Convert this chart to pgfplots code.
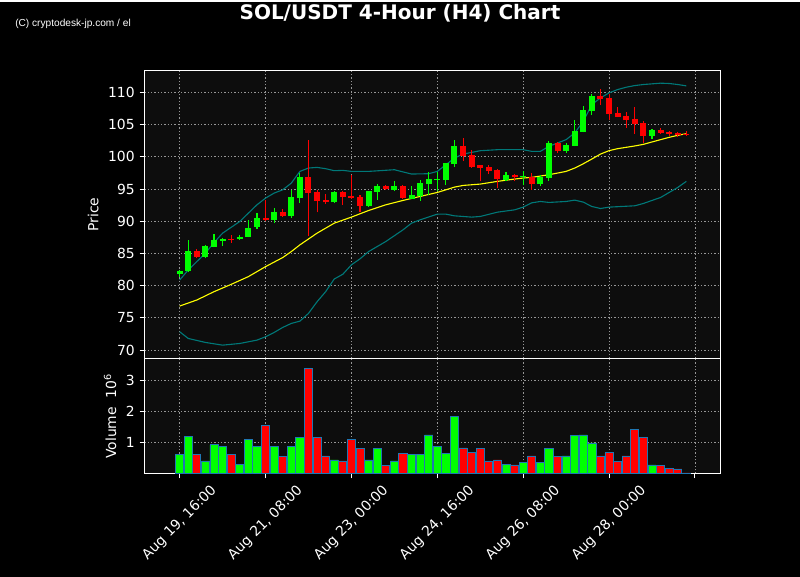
\documentclass[border=0pt]{standalone}
\usepackage{fontspec}
\setmainfont{DejaVu Sans}
\newfontfamily\wmfont{Liberation Sans}
\usepackage{pgfplots}
\usepackage{pgfplotstable}
\pgfplotsset{compat=1.18}

\definecolor{upc}{RGB}{0,255,0}
\definecolor{dnc}{RGB}{255,0,0}
\definecolor{bandc}{RGB}{0,120,120}
\definecolor{smac}{RGB}{255,255,0}
\definecolor{panel}{RGB}{13,13,13}
\definecolor{gridc}{RGB}{150,150,150}
\definecolor{edgec}{RGB}{31,119,180}

% 4h candles, x = bar index from Aug 19 16:00; v = volume in 1e6
\pgfplotstableread{
x o h l c v
0 81.77 82.45 81.30 82.34 0.605
1 82.24 87.12 82.20 85.46 1.19
3 84.42 86.30 84.26 86.23 0.41
4 86.08 88.05 85.97 87.17 0.93
5 87.01 87.45 86.23 87.32 0.865
7 87.22 87.89 87.12 87.63 0.30
8 87.53 90.23 87.50 89.03 1.09
9 89.09 91.27 88.83 90.44 0.89
11 90.13 92.10 89.70 91.37 0.89
13 90.75 94.89 90.49 93.70 0.89
14 93.60 97.49 92.82 96.81 1.16
18 92.93 94.70 92.90 94.48 0.44
22 92.35 94.75 92.25 94.64 0.44
23 94.53 95.83 93.34 95.42 0.80
25 94.89 96.20 94.75 95.42 0.41
27 93.50 95.42 93.45 94.12 0.605
28 94.00 96.34 93.18 95.88 0.605
29 95.73 97.60 94.12 96.51 1.25
30 96.40 97.60 94.64 96.56 0.865
31 96.40 99.04 95.68 98.99 0.64
32 98.89 102.67 98.47 101.64 1.84
38 96.45 97.60 96.20 97.13 0.31
40 96.82 97.85 95.57 96.97 0.35
42 95.78 97.23 95.42 96.82 0.35
43 96.72 102.42 96.30 102.11 0.80
45 100.86 102.20 100.65 101.80 0.57
46 101.70 105.79 101.65 103.98 1.22
47 103.88 107.98 103.80 107.25 1.25
48 107.09 109.79 106.57 109.42 0.99
55 103.25 104.40 102.83 104.13 0.28
}\upbars

\pgfplotstableread{
x o h l c v
2 85.46 85.72 84.26 84.42 0.605
6 87.30 87.89 86.70 87.20 0.605
10 90.44 93.34 90.00 90.13 1.55
12 91.37 91.89 90.65 90.75 0.54
15 96.81 102.67 87.74 94.38 3.39
16 94.48 94.89 91.37 93.13 1.16
17 93.24 94.27 92.67 92.93 0.57
19 94.48 94.75 92.56 93.76 0.41
20 93.86 97.23 93.45 93.55 1.09
21 93.70 94.12 91.42 92.35 0.80
24 95.42 95.68 94.90 95.00 0.25
26 95.42 95.57 93.50 93.60 0.64
33 101.64 102.93 99.41 100.19 0.83
34 100.24 101.12 98.30 98.37 0.68
35 98.68 98.78 96.20 98.27 0.80
36 98.37 98.78 97.33 97.80 0.41
37 97.91 98.12 95.16 96.56 0.44
39 97.13 97.30 96.20 96.82 0.28
41 96.82 97.49 94.89 95.78 0.57
44 102.11 102.32 100.55 100.86 0.54
49 109.42 110.62 108.13 109.01 0.57
50 109.11 109.84 105.74 106.62 0.67
51 106.78 107.76 106.15 106.21 0.38
52 106.31 106.99 104.50 105.69 0.57
53 105.84 107.76 103.61 105.07 1.42
54 105.22 105.53 102.16 103.25 1.16
56 104.13 104.50 103.60 103.72 0.25
57 103.87 104.07 103.20 103.56 0.18
58 103.72 103.82 103.10 103.46 0.15
59 103.56 103.98 103.30 103.40 0.02
}\dnbars

\pgfplotstableread{
x y
0 76.84
2 77.78
4 79.07
6 80.21
8 81.41
10 82.96
12 84.37
13 85.30
14 86.34
16 88.16
18 89.71
20 90.65
22 91.68
24 92.56
26 93.24
28 93.86
30 94.48
31 94.89
32 95.31
33 95.57
35 95.78
37 96.20
39 96.56
40 96.72
41 96.82
42 97.03
43 97.23
44 97.49
45 97.75
46 98.27
47 98.94
48 99.67
49 100.44
50 100.97
51 101.28
52 101.49
53 101.70
54 101.95
55 102.32
56 102.68
57 103.04
58 103.35
59 103.61
}\sma

\pgfplotstableread{
x y
0 80.88
1 82.44
2 83.74
3 85.04
4 86.70
5 88.16
7 89.97
9 92.56
10 93.60
11 94.38
12 94.89
13 95.93
14 97.75
15 98.27
16 98.37
17 98.17
18 97.86
19 97.91
20 97.75
22 97.75
25 98.01
27 97.34
29 97.39
30 97.75
31 98.78
32 99.82
33 100.44
35 100.96
37 101.12
40 101.12
41 100.86
42 100.86
43 101.64
44 102.16
45 102.68
46 103.72
47 105.53
48 108.13
49 109.16
50 109.94
51 110.46
52 110.82
53 111.08
54 111.24
56 111.45
57 111.40
58 111.24
59 111.03
}\bbup

\pgfplotstableread{
x y
0 72.85
1 71.81
3 71.19
5 70.77
7 71.03
9 71.55
10 72.07
11 72.74
12 73.52
13 74.14
14 74.50
15 75.70
16 77.51
17 79.07
18 81.04
19 81.78
20 83.24
21 84.17
22 85.30
24 86.86
26 88.67
27 89.71
28 90.23
30 91.11
31 91.11
32 90.85
34 90.65
35 90.75
37 91.42
39 91.78
40 92.20
41 92.87
42 93.08
43 92.93
45 93.08
46 93.29
47 92.98
48 92.30
49 91.99
50 92.20
53 92.41
54 92.77
55 93.24
56 93.70
57 94.48
58 95.26
59 96.20
}\bblo

\pgfplotsset{
  darkaxis/.style={
    scale only axis, width=414.9pt,
    xmin=-4.1, xmax=63,
    axis background/.style={fill=panel},
    axis line style={white, line width=0.8pt},
    tick style={white, line width=0.8pt},
    tick align=outside,
    major tick length=3.5pt,
    xtick={0,10,...,60},
    xtick pos=bottom, ytick pos=left,
    grid=major,
    major grid style={gridc, line width=0.6pt, dash pattern=on 0.8pt off 1.6pt},
    ticklabel style={font=\fontsize{10}{12}\selectfont, text=white},
    label style={font=\fontsize{10}{12}\selectfont, text=white},
    /pgf/number format/assume math mode=true,
  },
  candle/.style={draw=none, mark=none, forget plot,
    error bars/.cd, y dir=plus, y explicit, error mark=none,
    error bar style={draw=#1}},
}

\begin{document}
\begin{tikzpicture}
\fill[black] (0,0) rectangle (576pt,414pt);

\node[font=\bfseries\fontsize{14.4}{17}\selectfont, text=white] at (288pt,405.4pt) {SOL/USDT 4-Hour (H4) Chart};
\node[anchor=west, inner sep=0pt, font=\wmfont\fontsize{7.3}{9}\selectfont, text=white] at (10.8pt,398pt) {(C) cryptodesk-jp.com / el};

% price panel
\begin{axis}[darkaxis,
    at={(104pt,157pt)}, anchor=south west,
    height=207.4pt,
    ymin=68.69, ymax=113.42,
    ytick={70,75,...,110},
    xticklabels={},
    x tick style={draw=none},
    ylabel={Price},
  ]
  \addplot[bandc, line width=0.8pt] table[x=x, y=y] {\bbup};
  \addplot[bandc, line width=0.8pt] table[x=x, y=y] {\bblo};
  \addplot[smac, line width=0.8pt] table[x=x, y=y] {\sma};
  % wicks
  \addplot[candle={upc, line width=0.8pt}]
    table[x=x, y=l, y error plus expr=\thisrow{h}-\thisrow{l}] {\upbars};
  \addplot[candle={dnc, line width=0.8pt}]
    table[x=x, y=l, y error plus expr=\thisrow{h}-\thisrow{l}] {\dnbars};
  % bodies
  \addplot[candle={upc, line width=4.3pt}]
    table[x=x, y=o, y error plus expr=\thisrow{c}-\thisrow{o}] {\upbars};
  \addplot[candle={dnc, line width=4.3pt}]
    table[x=x, y=c, y error plus expr=\thisrow{o}-\thisrow{c}] {\dnbars};
\end{axis}

% volume panel
\begin{axis}[darkaxis,
    at={(104pt,74.16pt)}, anchor=south west,
    height=82.8pt,
    ymin=0, ymax=3.72,
    ytick={1,2,3},
    xticklabels={{Aug 19, 16:00},{Aug 21, 08:00},{Aug 23, 00:00},{Aug 24, 16:00},{Aug 26, 08:00},{Aug 28, 00:00},{}},
    xticklabel style={yshift=-32pt, rotate=45, anchor=center},
    ylabel={Volume\ \ 10\textsuperscript{6}},
  ]
  \addplot[ybar, bar width=0.95, bar shift=0pt, fill=upc, draw=edgec, line width=0.6pt]
    table[x=x, y=v] {\upbars};
  \addplot[ybar, bar width=0.95, bar shift=0pt, fill=dnc, draw=edgec, line width=0.6pt]
    table[x=x, y=v] {\dnbars};
\end{axis}
\end{tikzpicture}
\end{document}
